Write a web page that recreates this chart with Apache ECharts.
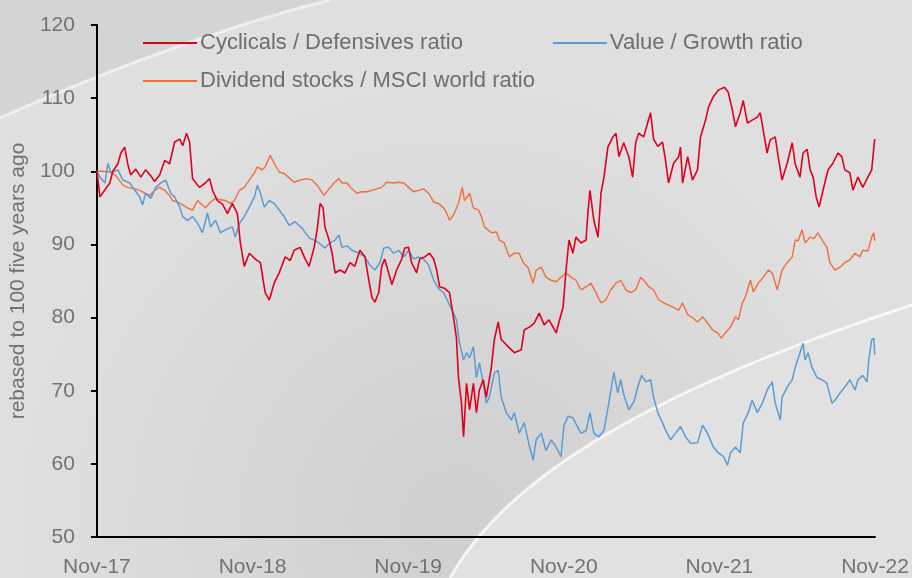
<!DOCTYPE html>
<html>
<head>
<meta charset="utf-8">
<script src="https://cdn.jsdelivr.net/npm/echarts@6/dist/echarts.min.js"></script>
<style>
html,body{margin:0;padding:0;background:#dadada;}
#main{width:912px;height:578px;}
</style>
</head>
<body>
<div id="main"></div>
<script>
// x = weeks since Nov-17, y = ratio rebased to 100
const tickLabels = ['Nov-17','Nov-18','Nov-19','Nov-20','Nov-21','Nov-22'];
const seriesNames = ['Cyclicals / Defensives ratio','Value / Growth ratio','Dividend stocks / MSCI world ratio'];
const weeksPerYear = 52.08;

const cyclicals = [[0,100],[1,96.5],[4.3,98.4],[5.3,100],[7,101],[8,102.5],[9.3,103.3],[10.3,101],[11.3,99.5],[13,100.3],[14.7,99.2],[16.3,100.2],[18,99.4],[19.3,98.6],[21,99.5],[22.7,101.5],[24.3,101],[26,104],[27.7,104.4],[28.7,103.5],[30,105.2],[31,104],[32,99],[34.3,97.8],[36.3,98.4],[37.7,99],[38.7,97.4],[40.3,96],[42,95.5],[43.7,94.2],[45.3,95.6],[47,94.2],[48,90.2],[49.3,87],[51,88.8],[53,88],[54.7,87.5],[56.3,83.4],[57.7,82.4],[59.3,84.7],[61,86.1],[63,88.3],[64.7,87.8],[66,89.2],[68,89.6],[69.7,88],[71,87],[72.7,89.6],[73.7,92],[74.7,95.6],[75.7,95],[76.3,92.4],[77.7,90.6],[78.7,88.8],[79.7,86.1],[81.3,86.5],[83,86.1],[84.7,87.5],[86.3,87],[88,89.2],[89.7,88.3],[91,85.1],[92,82.8],[93,82.1],[94.3,83.4],[95.3,87],[96.3,88],[97.7,86],[98.7,84.5],[100.3,86.5],[102,88],[103,89.5],[104.3,89.6],[105.3,87.5],[107,86.1],[108,88],[109.7,88.3],[111.3,88.8],[112.7,88],[113.7,86.5],[114.7,84.2],[116.3,84],[118,83.4],[119.3,80.1],[120.3,77.3],[121,71.8],[122,68.3],[122.7,63.7],[123.7,71],[124.7,67.4],[126,71],[127,67],[128,70.1],[129.3,71.5],[130.3,69.1],[132,73.2],[133,77],[134.3,79.4],[135.3,77],[137.7,76],[139.7,75.2],[142,75.6],[143,78.3],[144.7,78.7],[146.3,79.2],[148,80.6],[149.7,79],[151.3,79.7],[153.7,77.9],[154.7,79.5],[156,81.4],[157,86.5],[158,90.6],[159.3,88.8],[160.3,91],[162,90.2],[163.7,90.6],[164.3,94.3],[165,97.4],[166.3,93.3],[167.7,91],[168.7,97],[169.7,99.2],[171,103.3],[172.7,104.7],[173.7,105.2],[174.7,102],[176.3,103.9],[178,102],[179.3,99.2],[180.3,103.9],[181.3,105.2],[183,104.7],[184.3,106.6],[185.3,108],[186.3,104.4],[187.7,103.4],[189.3,104],[190.3,101.5],[191.3,98.4],[193,101.1],[194.7,102],[195.3,103.3],[196,98.4],[197.7,102],[199.3,98.8],[201,100.2],[202,104.7],[203.7,107],[204.7,108.8],[206.3,110.2],[208,111.1],[210,111.5],[211.3,110.8],[212.7,108.3],[213.7,106.1],[215.3,108],[216.3,109.7],[217.7,106.6],[219.3,107],[221,107.4],[222,108],[223,105.6],[224.3,102.5],[225.3,104.3],[227,104.7],[228,102],[229.3,98.8],[231,101.1],[232.7,103.9],[233.7,101],[235.3,99.2],[236.3,102.5],[237.7,103],[238.7,100.2],[239.7,99.2],[240.7,96.5],[241.7,95.1],[243,97.4],[244.7,100.2],[246.3,101.1],[248,102.5],[249.3,102],[250.3,100.2],[252,99.8],[253,97.4],[254.7,99.2],[256.3,97.8],[258,99.2],[259.3,100.2],[260.3,104.4]];

const valueGrowth = [[0,100],[1,99.2],[2.7,98.4],[3.7,101.1],[4.7,99.8],[7,100.2],[8.7,98.8],[11,98.4],[12.7,97.4],[14.3,96.5],[15.3,95.4],[16.3,97],[18,96.3],[19.7,97.8],[21.3,98.4],[23,98.8],[24.7,97],[26,96.5],[27.7,95.1],[28.7,93.8],[30.3,93.3],[32,93.8],[33.7,92.9],[35.3,91.6],[37,94.3],[38,92.4],[39.7,93.3],[41.3,91.6],[43,92],[45.3,92.4],[46.3,91],[47.7,92.9],[49.3,93.8],[51,95.1],[52.7,96.5],[53.7,98.1],[54.7,97],[56,95.1],[57.7,96],[59.3,95.6],[61,94.7],[62.7,93.8],[64.3,92.6],[66.3,93.1],[68.7,92.2],[71,90.9],[72.7,90.6],[74.3,90.2],[76.3,89.5],[78,90.2],[79.7,90.6],[81,91.3],[82,89.6],[83.7,89.8],[85.3,89.2],[87.7,88.8],[89.7,88.3],[91.3,87.2],[93,86.5],[94.7,87.5],[96,89.5],[97.7,89.6],[99.3,88.8],[101,89.2],[102.7,88.3],[104.3,89.2],[106,88],[107.7,88.3],[109.3,88],[111,87.2],[112.7,85.1],[114.3,84],[116,83.4],[117.7,82],[119.3,80.6],[120.3,79.7],[121.3,76.6],[122.7,74.2],[123.7,75.2],[124.7,74.5],[126,76],[127,71.8],[128,73.8],[129.3,71],[130.3,68.3],[131.3,69.1],[133,72.4],[134.3,72.8],[135.3,69.1],[137,67],[138.7,66],[139.7,67],[141.3,64.2],[143,65.6],[144.7,62.5],[146,60.5],[147,63.3],[148.7,64.2],[150.3,61.8],[152,63.3],[153.7,62.3],[155.3,61],[156.3,65.3],[157.7,66.5],[159.3,66.3],[160.3,65.5],[162,64.2],[163.7,64.5],[165,67],[166.3,64.2],[168,63.7],[169.7,64.6],[171.3,68.3],[173,72.5],[174.3,69.7],[175.3,71.5],[176.3,69.5],[178,67.4],[179.7,68.5],[181,70.5],[182.3,72.1],[183.7,71.2],[185.3,71.5],[186.3,69.1],[187.7,67],[189.3,65.6],[190.3,64.6],[192,63.3],[193.7,64.2],[195.3,65.1],[197,63.7],[198.7,62.8],[201,62.9],[202.7,65.3],[204.3,64.2],[206.3,62.3],[208,61.5],[209.7,61],[211,59.8],[212,61.5],[213.7,62.3],[215.3,61.5],[216.3,65.6],[218,67],[219.3,68.7],[221,67],[222.7,68.3],[224.3,70.1],[226,71.2],[227,68.3],[228.7,66],[229.3,69.1],[231,70.5],[232.7,71.5],[233.7,73.2],[235.3,75.2],[236.3,76.5],[237,74.2],[238,75.2],[239.3,73.2],[241,71.8],[242.7,71.5],[244.3,71],[246,68.3],[247,68.7],[248.7,69.7],[250.3,70.5],[252,71.5],[253.7,70.1],[254.7,71.5],[256.3,72.1],[257.7,71.2],[258.3,74.2],[259.3,77],[260,77.2],[260.3,74.9]];

const dividend = [[0,100],[2,100],[4.3,99.9],[6.3,99.4],[8.7,98.1],[10.3,97.8],[12.7,97.6],[14.3,97.4],[16,97],[17.7,96.7],[19.3,97.4],[21,97.8],[22.7,97.4],[24.3,96.7],[25.3,96],[27,95.8],[28.7,95.4],[30.3,95],[32,94.7],[33.7,96],[34.7,95.6],[36.3,95],[38,95.8],[39.7,96.3],[41.3,96.1],[43,96],[44.7,95.6],[46,96],[47.7,97.4],[49.3,97.8],[51,98.8],[52.7,99.8],[53.7,100.6],[55.3,100.2],[56.3,100.6],[58,102.2],[59.3,101.1],[61,99.9],[62.7,99.7],[64.3,99.1],[66,98.5],[68,98.8],[70.3,99],[72,98.8],[73.7,98.1],[76,96.7],[77.7,97.6],[79.3,98.4],[81,99],[82,98.4],[83.7,98.4],[85.3,97.6],[87,97],[88.7,97.2],[90.3,97.2],[92,97.4],[93.7,97.6],[95.3,97.8],[97,98.5],[99.3,98.4],[101,98.5],[102.7,98.4],[104.3,97.8],[106,97.2],[107.7,97.4],[109.3,97.6],[111,97],[112.7,95.8],[114.3,95.6],[116,95],[117,94.3],[118,93.3],[119.3,94],[121,95.6],[122.3,97.8],[123,96],[124.7,97],[126,95],[127.7,94.7],[128.7,93.8],[129.7,92.4],[132,91.6],[133.7,91.7],[134.7,90.6],[136.3,90.2],[138,88.3],[139.7,88.8],[141.3,88.8],[142.7,87.5],[144.3,86.8],[146,84.7],[147,86.5],[148.7,86.9],[150.3,85.5],[152,85.1],[153.7,84.9],[155.3,85.5],[157,86.1],[158.7,85.5],[160.3,85.1],[162,83.8],[163.7,84.2],[165.3,84.7],[167,83.4],[168.7,82],[170.3,82.4],[172,83.8],[173.7,84.7],[175.3,85.1],[177,83.8],[178.7,83.4],[180.3,83.8],[182,85.5],[183,85.1],[184.7,84.2],[186.3,83.8],[188,82.4],[189.7,82],[191.3,81.7],[193,81.4],[194.7,81],[196,82],[197.7,80.4],[199.3,80],[201,79.4],[202.7,80.1],[204.3,79.3],[206,78.3],[207.7,77.9],[209,77.2],[210.3,77.9],[212,78.7],[213.7,80.1],[214.7,79.7],[216,82],[217,82.8],[218.7,85.1],[219.7,83.5],[221.3,84.7],[223,85.5],[224.7,86.5],[226,86.1],[227.7,83.8],[229.3,86.5],[231,87.5],[232.7,88.3],[233.7,90.6],[234.7,90.5],[236,92],[237,90.2],[238.7,91],[240,90.8],[241.3,91.6],[242.7,90.6],[244.3,89.6],[245.3,87.5],[247,86.5],[248.7,86.9],[250.3,87.5],[252,87.9],[253.7,88.8],[255.3,88.3],[256.3,89.2],[258,89.1],[259.3,91],[260,91.6],[260.3,90.5]];

const colors = {cyc:'#e0001b', val:'#5b9bd5', div:'#f26d3d'};
const textFont = '"Liberation Sans", Arial, sans-serif';

// background decoration: sample a cubic curve into polygon points
function curvePoints(p0, p1, p2, p3){
  const pts = [];
  for (let i = 0; i <= 40; i++) {
    const t = i / 40, u = 1 - t;
    pts.push([
      u*u*u*p0[0] + 3*u*u*t*p1[0] + 3*u*t*t*p2[0] + t*t*t*p3[0],
      u*u*u*p0[1] + 3*u*u*t*p1[1] + 3*u*t*t*p2[1] + t*t*t*p3[1]
    ]);
  }
  return pts;
}
const topCurve = curvePoints([0,118],[110,68],[240,22],[330,0]);
const bottomCurve = curvePoints([450,578],[500,490],[620,400],[912,305]);

const chart = echarts.init(document.getElementById('main'));
const option = {
  backgroundColor: 'transparent',
  animation: false,
  textStyle: {fontFamily: textFont},
  graphic: [
    {type:'rect', z:-30, silent:true, shape:{x:0,y:0,width:912,height:578},
      style:{fill:new echarts.graphic.RadialGradient(0.5,0.9,0.75,[
        {offset:0,color:'#cfcfcf'},{offset:1,color:'#dfdfdf'}])}},
    {type:'polygon', z:-29, silent:true,
      shape:{points:topCurve.concat([[0,0]])},
      style:{fill:'#d4d4d4'}},
    {type:'polyline', z:-28, silent:true,
      shape:{points:topCurve},
      style:{stroke:'rgba(255,255,255,0.55)', lineWidth:3, fill:null}},
    {type:'polygon', z:-29, silent:true,
      shape:{points:bottomCurve.concat([[912,578]])},
      style:{fill:'#e1e1e1'}},
    {type:'polyline', z:-28, silent:true,
      shape:{points:bottomCurve},
      style:{stroke:'rgba(255,255,255,0.75)', lineWidth:3, fill:null}}
  ],
  legend: [
    {data:[seriesNames[0], seriesNames[1]], left:143, top:32, padding:0, icon:'rect',
      itemWidth:54, itemHeight:2, itemGap:90,
      textStyle:{color:'#6e6e6e', fontSize:22, fontFamily:textFont, padding:[0,0,0,-2]}},
    {data:[seriesNames[2]], left:143, top:70, padding:0, icon:'rect',
      itemWidth:54, itemHeight:2,
      textStyle:{color:'#6e6e6e', fontSize:22, fontFamily:textFont, padding:[0,0,0,-2]}}
  ],
  grid: {left:94, right:37, top:25, bottom:41, containLabel:false},
  xAxis: {
    type:'value', min:0, max:weeksPerYear*5, interval:weeksPerYear,
    axisLine:{show:true, lineStyle:{color:'#000', width:2}},
    axisTick:{show:false},
    splitLine:{show:false},
    axisLabel:{color:'#727272', fontSize:21, margin:20, showMaxLabel:true,
      formatter: v => tickLabels[Math.round(v/weeksPerYear)]}
  },
  yAxis: {
    type:'value', min:50, max:120, interval:10,
    name:'rebased to 100 five years ago', nameLocation:'middle', nameGap:66,
    nameTextStyle:{color:'#727272', fontSize:21, fontFamily:textFont},
    axisLine:{show:true, lineStyle:{color:'#000', width:2}},
    axisTick:{show:true, length:6, lineStyle:{color:'#000', width:2}},
    splitLine:{show:false},
    axisLabel:{color:'#727272', fontSize:21, margin:22}
  },
  series: [
    {name:seriesNames[2], type:'line', data:dividend, showSymbol:false, symbol:'none',
      lineStyle:{color:colors.div, width:1.4}, itemStyle:{color:colors.div}},
    {name:seriesNames[1], type:'line', data:valueGrowth, showSymbol:false, symbol:'none',
      lineStyle:{color:colors.val, width:1.5}, itemStyle:{color:colors.val}},
    {name:seriesNames[0], type:'line', data:cyclicals, showSymbol:false, symbol:'none',
      lineStyle:{color:colors.cyc, width:1.6}, itemStyle:{color:colors.cyc}}
  ]
};
chart.setOption(option);
</script>
</body>
</html>
